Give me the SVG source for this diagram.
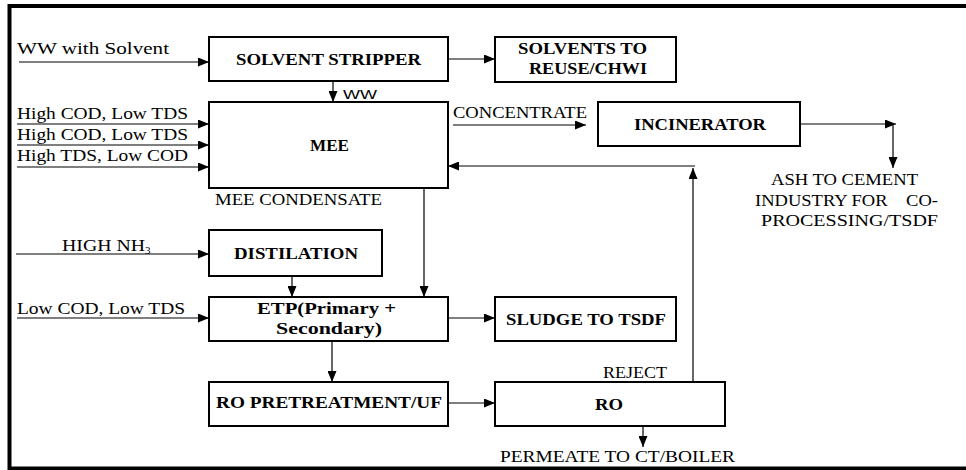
<svg xmlns="http://www.w3.org/2000/svg" width="966" height="470" viewBox="0 0 966 470">
  <defs>
    <marker id="arrow" markerUnits="userSpaceOnUse" markerWidth="11" markerHeight="9" refX="11" refY="4.5" orient="auto">
      <path d="M0,0 L11,4.5 L0,9 z" fill="#000"/>
    </marker>
    <style>
      .frame { fill: none; stroke: #000; stroke-width: 4; }
      .box { fill: #fff; stroke: #000; stroke-width: 2; }
      .flow { fill: none; stroke: #000; stroke-width: 1.2; marker-end: url(#arrow); }
      text { font-family: "Liberation Serif", "DejaVu Serif", serif; font-size: 16.5px; fill: #000; }
      .b { font-weight: bold; }
      .sans { font-family: "Liberation Sans", Arial, sans-serif; font-size: 12px; }
    </style>
  </defs>

  <rect width="966" height="470" fill="#fff"/>

  <!-- outer frame: open on the right -->
  <path class="frame" d="M966,6 L9.5,6 L9.5,468.5 L966,468.5"/>

  <!-- connectors -->
  <g id="connectors">
    <line class="flow" x1="19" y1="62" x2="209" y2="62"/>
    <line class="flow" x1="448" y1="59" x2="495" y2="59"/>
    <line class="flow" x1="333" y1="81" x2="333" y2="102"/>
    <line class="flow" x1="17" y1="124" x2="209" y2="124"/>
    <line class="flow" x1="17" y1="145" x2="209" y2="145"/>
    <line class="flow" x1="17" y1="167" x2="209" y2="167"/>
    <line class="flow" x1="453" y1="125" x2="586" y2="125"/>
    <line class="flow" x1="800" y1="124" x2="896" y2="124"/>
    <line class="flow" x1="893" y1="124" x2="893" y2="168"/>
    <line class="flow" x1="693" y1="381" x2="693" y2="168"/>
    <line class="flow" x1="695" y1="166" x2="448" y2="166"/>
    <line class="flow" x1="424" y1="188" x2="424" y2="297"/>
    <line class="flow" x1="16" y1="254" x2="209" y2="254"/>
    <line class="flow" x1="292" y1="276" x2="292" y2="297"/>
    <line class="flow" x1="17" y1="318" x2="209" y2="318"/>
    <line class="flow" x1="448" y1="318" x2="495" y2="318"/>
    <line class="flow" x1="332" y1="341" x2="332" y2="382"/>
    <line class="flow" x1="448" y1="403" x2="495" y2="403"/>
    <line class="flow" x1="643" y1="426" x2="643" y2="447"/>
  </g>

  <!-- nodes -->
  <g id="solvent-stripper">
    <rect class="box" x="209" y="37" width="239" height="44"/>
    <text class="b" x="236" y="65" textLength="185" lengthAdjust="spacingAndGlyphs">SOLVENT STRIPPER</text>
  </g>
  <g id="solvents-reuse">
    <rect class="box" x="495" y="37" width="181" height="45"/>
    <text class="b" x="518" y="54" textLength="129" lengthAdjust="spacingAndGlyphs">SOLVENTS TO</text>
    <text class="b" x="529" y="74" textLength="118" lengthAdjust="spacingAndGlyphs">REUSE/CHWI</text>
  </g>
  <g id="mee">
    <rect class="box" x="209" y="102" width="239" height="86"/>
    <text class="b" x="310" y="151" textLength="39" lengthAdjust="spacingAndGlyphs">MEE</text>
  </g>
  <g id="incinerator">
    <rect class="box" x="598" y="102" width="202" height="44"/>
    <text class="b" x="634" y="130" textLength="132" lengthAdjust="spacingAndGlyphs">INCINERATOR</text>
  </g>
  <g id="distilation">
    <rect class="box" x="209" y="230" width="173" height="46"/>
    <text class="b" x="234" y="259" textLength="124" lengthAdjust="spacingAndGlyphs">DISTILATION</text>
  </g>
  <g id="etp">
    <rect class="box" x="209" y="297" width="239" height="44"/>
    <text class="b" x="257" y="314" textLength="139" lengthAdjust="spacingAndGlyphs">ETP(Primary +</text>
    <text class="b" x="276" y="334" textLength="106" lengthAdjust="spacingAndGlyphs">Secondary)</text>
  </g>
  <g id="sludge">
    <rect class="box" x="495" y="297" width="181" height="44"/>
    <text class="b" x="506" y="325" textLength="160" lengthAdjust="spacingAndGlyphs">SLUDGE TO TSDF</text>
  </g>
  <g id="ro-pretreatment">
    <rect class="box" x="209" y="382" width="239" height="44"/>
    <text class="b" x="216" y="408" textLength="226" lengthAdjust="spacingAndGlyphs">RO PRETREATMENT/UF</text>
  </g>
  <g id="ro">
    <rect class="box" x="495" y="382" width="230" height="44"/>
    <text class="b" x="595" y="410" textLength="28" lengthAdjust="spacingAndGlyphs">RO</text>
  </g>

  <!-- stream labels -->
  <g id="labels">
    <text x="17" y="54" textLength="152" lengthAdjust="spacingAndGlyphs">WW with Solvent</text>
    <text class="sans" x="343" y="99" textLength="34" lengthAdjust="spacingAndGlyphs">WW</text>
    <text x="17" y="119" textLength="171" lengthAdjust="spacingAndGlyphs">High COD, Low TDS</text>
    <text x="17" y="140" textLength="171" lengthAdjust="spacingAndGlyphs">High COD, Low TDS</text>
    <text x="17" y="161" textLength="171" lengthAdjust="spacingAndGlyphs">High TDS, Low COD</text>
    <text x="215" y="205" textLength="167" lengthAdjust="spacingAndGlyphs">MEE CONDENSATE</text>
    <text x="453" y="118" textLength="134" lengthAdjust="spacingAndGlyphs">CONCENTRATE</text>
    <text x="771" y="185" textLength="147" lengthAdjust="spacingAndGlyphs">ASH TO CEMENT</text>
    <text x="755" y="206" textLength="183" lengthAdjust="spacingAndGlyphs" xml:space="preserve">INDUSTRY FOR    CO-</text>
    <text x="761" y="226" textLength="177" lengthAdjust="spacingAndGlyphs">PROCESSING/TSDF</text>
    <text x="62" y="251"><tspan textLength="83" lengthAdjust="spacingAndGlyphs">HIGH NH</tspan><tspan x="145" dy="3" font-size="11">3</tspan></text>
    <text x="17" y="314" textLength="168" lengthAdjust="spacingAndGlyphs">Low COD, Low TDS</text>
    <text x="603" y="378" textLength="64" lengthAdjust="spacingAndGlyphs">REJECT</text>
    <text x="500" y="462" textLength="235" lengthAdjust="spacingAndGlyphs">PERMEATE TO CT/BOILER</text>
  </g>
</svg>
